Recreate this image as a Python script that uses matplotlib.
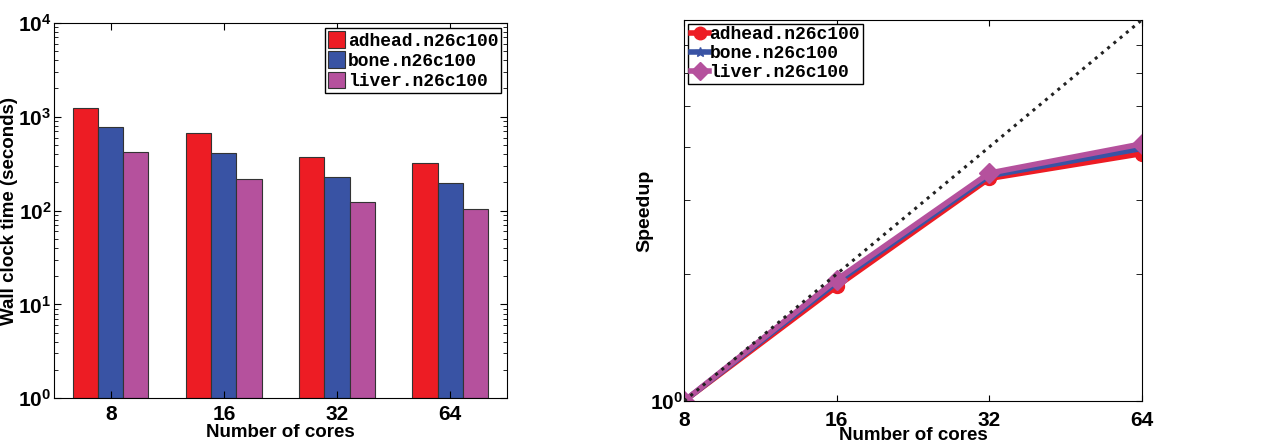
import numpy as np
import matplotlib
matplotlib.use('Agg')
import matplotlib.pyplot as plt
from matplotlib.ticker import LogLocator, NullFormatter, FixedLocator, FixedFormatter

# wall clock times (seconds) and speedups per dataset
cores = [8, 16, 32, 64]
datasets = ['adhead.n26c100', 'bone.n26c100', 'liver.n26c100']
time_adhead = [1250, 665, 370, 322]
time_bone = [770, 405, 226, 195]
time_liver = [418, 214, 122, 103]
speedup_adhead = [1.0, 1.87, 3.37, 3.86]
speedup_bone = [1.0, 1.91, 3.42, 3.97]
speedup_liver = [1.0, 1.94, 3.47, 4.07]

colors = ['#ED1C24', '#3953A4', '#B5519D']

plt.rcParams['font.family'] = 'Liberation Sans'
plt.rcParams['font.weight'] = 'bold'
plt.rcParams['mathtext.default'] = 'regular'
plt.rcParams['xtick.direction'] = 'in'
plt.rcParams['ytick.direction'] = 'in'

legend_font = {'family': 'Liberation Mono', 'weight': 'bold', 'size': 13}

fig = plt.figure(figsize=(12.62, 4.48), dpi=100)

# ---- left: grouped bars on log scale
ax1 = fig.add_axes([0.043, 0.111, 0.3585, 0.838])
times = [time_adhead, time_bone, time_liver]
x = np.arange(1, len(cores) + 1)
w = 0.222
for i, (t, c, name) in enumerate(zip(times, colors, datasets)):
    ax1.bar(x + (i - 1) * w, t, width=w, color=c, edgecolor='#333333',
            linewidth=0.8, label=name, bottom=1)
ax1.set_yscale('log')
ax1.set_ylim(1, 1e4)
ax1.set_xlim(0.5, 4.5)
ax1.set_xticks(x)
ax1.set_xticklabels([str(c) for c in cores])
ax1.yaxis.set_major_locator(LogLocator(base=10, numticks=10))
ax1.yaxis.set_minor_locator(LogLocator(base=10, subs=np.arange(2, 10), numticks=20))
ax1.yaxis.set_minor_formatter(NullFormatter())
ax1.tick_params(which='both', top=True, right=True, labelsize=15)
ax1.tick_params(which='major', length=5)
ax1.tick_params(which='minor', length=3)
ax1.tick_params(axis='y', pad=2)
ax1.tick_params(axis='x', pad=5)
ax1.set_xlabel('Number of cores', fontsize=13.5, fontweight='bold', labelpad=0)
ax1.set_ylabel('Wall clock time (seconds)', fontsize=13.5, fontweight='bold', labelpad=0)
leg1 = ax1.legend(loc='upper right', prop=legend_font,
                  fancybox=False, edgecolor='black', framealpha=1, borderpad=0.15,
                  handlelength=0.95, handleheight=1.05, handletextpad=0.15,
                  labelspacing=0.1, borderaxespad=0.3)
leg1.get_frame().set_linewidth(1.0)

# ---- right: speedup lines with ideal diagonal
ax2 = fig.add_axes([0.5422, 0.105, 0.3624, 0.850])
ax2.plot(cores, speedup_adhead, color=colors[0], marker='o', markersize=10,
         linewidth=4, label=datasets[0])
ax2.plot(cores, speedup_bone, color=colors[1], marker='*', markersize=8,
         linewidth=4, label=datasets[1])
ax2.plot(cores, speedup_liver, color=colors[2], marker='D', markersize=10,
         linewidth=4, label=datasets[2])
ax2.plot([8, 64], [1, 8], color='#222222', linestyle=':', linewidth=2.2, zorder=5)
ax2.set_xscale('log', base=2)
ax2.set_yscale('log')
ax2.set_xlim(8, 64)
ax2.set_ylim(1, 8)
ax2.xaxis.set_major_locator(FixedLocator(cores))
ax2.xaxis.set_major_formatter(FixedFormatter([str(c) for c in cores]))
ax2.xaxis.set_minor_locator(FixedLocator([]))
ax2.yaxis.set_major_locator(FixedLocator([1]))
ax2.yaxis.set_major_formatter(FixedFormatter(['$10^0$']))
ax2.yaxis.set_minor_locator(FixedLocator([2, 3, 4, 5, 6, 7]))
ax2.yaxis.set_minor_formatter(NullFormatter())
ax2.tick_params(which='both', top=True, right=True, labelsize=15, length=4)
ax2.tick_params(axis='y', pad=1)
ax2.tick_params(axis='x', pad=7)
ax2.set_xlabel('Number of cores', fontsize=13.5, fontweight='bold', labelpad=-2)
ax2.set_ylabel('Speedup', fontsize=14, fontweight='bold')
ax2.yaxis.set_label_coords(-0.068, 0.5)
leg2 = ax2.legend(loc='upper left', prop=legend_font,
                  fancybox=False, edgecolor='black', framealpha=1, borderpad=0.15,
                  handlelength=1.0, handletextpad=0.05, labelspacing=0.1,
                  borderaxespad=0.2, markerscale=0.9)
leg2.get_frame().set_linewidth(1.0)

fig.savefig('out.png', dpi=100)
